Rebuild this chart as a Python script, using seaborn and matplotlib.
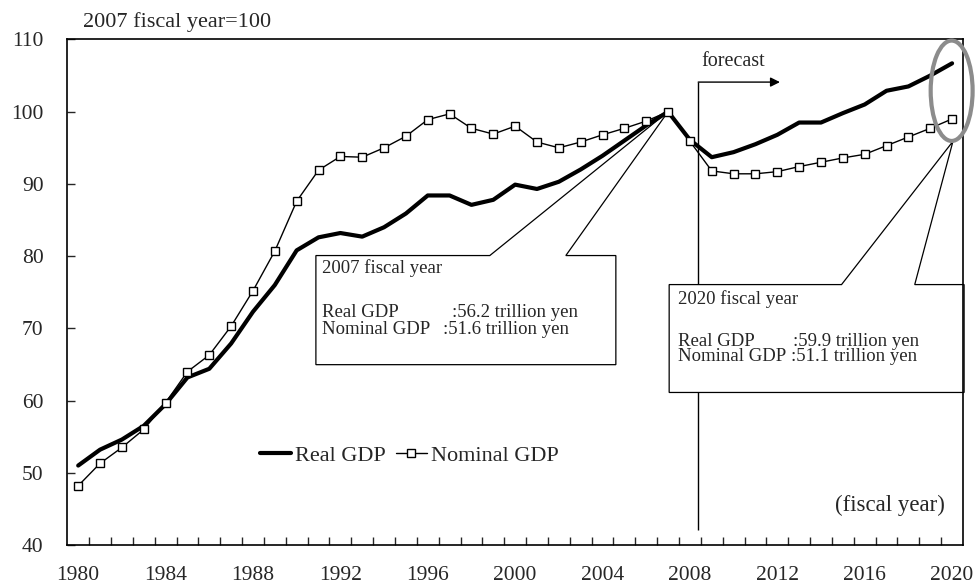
import numpy as np
import pandas as pd
import seaborn as sns
import matplotlib.pyplot as plt
from matplotlib.patches import Polygon, Ellipse

# fiscal years and indices (2007 fiscal year = 100)
years = list(range(1980, 2021))
real_gdp = [51.0, 53.2, 54.6, 56.5, 59.5, 63.2, 64.4, 67.9, 72.3, 76.0,
            80.8, 82.6, 83.2, 82.7, 84.0, 85.9, 88.4, 88.4, 87.1, 87.8,
            89.9, 89.3, 90.3, 92.0, 93.9, 96.0, 98.1, 100.0, 96.1, 93.7,
            94.4, 95.5, 96.8, 98.5, 98.5, 99.8, 101.0, 102.9, 103.5, 105.0, 106.7]
nominal_gdp = [48.2, 51.3, 53.5, 56.0, 59.7, 64.0, 66.3, 70.3, 75.2, 80.7,
               87.6, 91.9, 93.8, 93.7, 95.0, 96.6, 98.9, 99.7, 97.7, 96.9,
               98.0, 95.8, 95.0, 95.8, 96.8, 97.7, 98.7, 100.0, 95.9, 91.8,
               91.4, 91.4, 91.7, 92.4, 93.0, 93.6, 94.1, 95.3, 96.5, 97.7, 99.0]
xtick_years = list(range(1980, 2021, 4))

df = pd.DataFrame({"year": years, "real": real_gdp, "nominal": nominal_gdp})

sns.set_style("ticks")
plt.rcParams["font.family"] = ["Liberation Serif", "DejaVu Serif"]
plt.rcParams["font.size"] = 15

fig = plt.figure(figsize=(9.75, 5.85), dpi=100)
ax = fig.add_axes([0.069, 0.0684, 0.9187, 0.8641])

sns.lineplot(data=df, x="year", y="real", ax=ax, color="black", lw=3,
             label="Real GDP", zorder=4)
sns.lineplot(data=df, x="year", y="nominal", ax=ax, color="black", lw=1,
             marker="s", markersize=6, markerfacecolor="white",
             markeredgecolor="black", markeredgewidth=1,
             label="Nominal GDP", zorder=5)

ax.set_xlim(1979.5, 2020.5)
ax.set_ylim(40, 110)
ax.set_xlabel("")
ax.set_ylabel("")
ax.set_xticks(xtick_years)
ax.set_xticks(np.arange(1980.5, 2020, 1), minor=True)
ax.set_yticks(range(40, 111, 10))
ax.tick_params(axis="x", which="major", length=0, pad=15, labelsize=15.5)
ax.tick_params(axis="x", which="minor", direction="in", length=6, width=1)
ax.tick_params(axis="y", direction="in", length=6, width=1, pad=17, labelsize=15.5)
for s in ax.spines.values():
    s.set_visible(True)
    s.set_color("black")
    s.set_linewidth(1.2)

ax.legend(loc="center left", bbox_to_anchor=(1988.3, 52.4),
          bbox_transform=ax.transData, ncol=2, frameon=False,
          handlelength=1.4, handletextpad=0.2, columnspacing=0.45,
          borderpad=0, borderaxespad=0, fontsize=16)

# forecast marker
ax.vlines(2008.38, 42.1, 104.1, color="black", lw=1, zorder=1)
ax.annotate("", xy=(2012.12, 104.1), xytext=(2008.38, 104.1),
            arrowprops=dict(arrowstyle="-|>", color="black", lw=1,
                            mutation_scale=14, shrinkA=0, shrinkB=0))
ax.text(2008.53, 107.0, "forecast", fontsize=14.5, va="center", ha="left")

box_fs = 13.5

# callout 2007
box1 = [(1990.88, 80.08), (1998.84, 80.08), (2007.0, 100.0), (2002.32, 80.08),
        (2004.61, 80.08), (2004.61, 64.97), (1990.88, 64.97)]
ax.add_patch(Polygon(box1, closed=True, facecolor="white", edgecolor="black",
                     lw=0.9, zorder=2))
ax.text(1991.14, 78.38, "2007 fiscal year", fontsize=box_fs, va="center", zorder=6)
ax.text(1991.14, 72.14, "Real GDP", fontsize=box_fs, va="center", zorder=6)
ax.text(1997.09, 72.14, ":56.2 trillion yen", fontsize=box_fs, va="center", zorder=6)
ax.text(1991.14, 69.82, "Nominal GDP", fontsize=box_fs, va="center", zorder=6)
ax.text(1996.68, 69.82, ":51.6 trillion yen", fontsize=box_fs, va="center", zorder=6)

# callout 2020
box2 = [(2007.05, 76.06), (2014.94, 76.06), (2020.04, 95.9), (2018.29, 76.06),
        (2020.55, 76.06), (2020.55, 61.12), (2007.05, 61.12)]
ax.add_patch(Polygon(box2, closed=True, facecolor="white", edgecolor="black",
                     lw=0.9, zorder=2, clip_on=False))
ax.text(2007.46, 74.08, "2020 fiscal year", fontsize=box_fs, va="center", zorder=6)
ax.text(2007.46, 68.20, "Real GDP", fontsize=box_fs, va="center", zorder=6)
ax.text(2012.73, 68.20, ":59.9 trillion yen", fontsize=box_fs, va="center", zorder=6)
ax.text(2007.46, 66.12, "Nominal GDP", fontsize=box_fs, va="center", zorder=6)
ax.text(2012.62, 66.12, ":51.1 trillion yen", fontsize=box_fs, va="center", zorder=6)

ax.add_patch(Ellipse((2019.98, 102.9), 1.92, 13.9, facecolor="none",
                     edgecolor="#8c8c8c", lw=3, zorder=6, clip_on=False))

ax.text(2019.67, 45.5, "(fiscal year)", fontsize=16.5, ha="right", va="center")
ax.text(1980.2, 112.4, "2007 fiscal year=100", fontsize=16, ha="left",
        va="center", clip_on=False)

fig.savefig("out.png", dpi=100)
